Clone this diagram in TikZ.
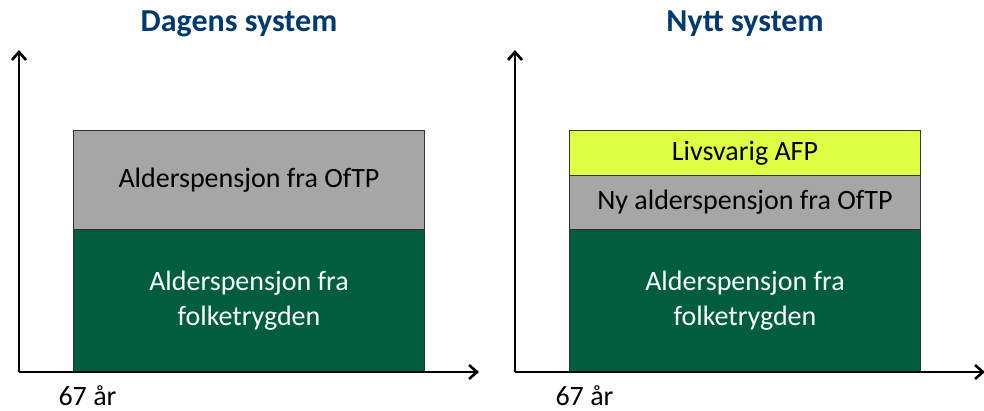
\documentclass[tikz,border=0pt]{standalone}
\usepackage{fontspec}
\setmainfont{Carlito}
\usetikzlibrary{arrows.meta}
\definecolor{fgreen}{RGB}{0,94,62}
\definecolor{fgray}{RGB}{166,166,166}
\definecolor{fyellow}{RGB}{223,255,67}
\definecolor{ftitle}{RGB}{0,58,112}
\tikzset{
  axis/.style={line width=2.6pt,-{Straight Barb[length=8pt,width=14pt,line width=2.6pt]}},
  seg/.style={draw=black!80,line width=1pt,inner sep=0pt,align=center,font=\fontsize{28}{35}\selectfont},
  ttl/.style={font=\fontsize{32}{36}\selectfont\bfseries,text=ftitle},
  lbl/.style={font=\fontsize{28}{34}\selectfont},
}
\begin{document}
\begin{tikzpicture}[x=1pt,y=-1pt]
\useasboundingbox (0,0) rectangle (984,411);
% left
\node[ttl] (t1) at (239,24) {Dagens system};
\node[seg,fill=fgray,minimum width=351pt,minimum height=99pt,anchor=north west] (g1) at (73,130) {Alderspensjon fra OfTP};
\node[seg,fill=fgreen,text=white,minimum width=351pt,minimum height=143pt,anchor=north west] (f1) at (73,229) {Alderspensjon fra\\folketrygden};
\coordinate (o1) at (19,372);
\coordinate (y1) at (19,50);
\coordinate (x1) at (479,372);
\draw[axis] (o1) -- (y1);
\draw[axis] (o1) -- (x1);
\node[lbl,anchor=base west] (a1) at (55,405) {67 år};
% right
\node[ttl] (t2) at (745,24) {Nytt system};
\node[seg,fill=fyellow,minimum width=351pt,minimum height=45pt,anchor=north west] (y2b) at (569,130) {Livsvarig AFP};
\node[seg,fill=fgray,minimum width=351pt,minimum height=54pt,anchor=north west] (g2) at (569,175) {Ny alderspensjon fra OfTP};
\node[seg,fill=fgreen,text=white,minimum width=351pt,minimum height=143pt,anchor=north west] (f2) at (569,229) {Alderspensjon fra\\folketrygden};
\coordinate (o2) at (515,372);
\coordinate (y2) at (515,50);
\coordinate (x2) at (985,372);
\draw[axis] (o2) -- (y2);
\draw[axis] (o2) -- (x2);
\node[lbl,anchor=base west] (a2) at (552,405) {67 år};
\end{tikzpicture}
\end{document}
